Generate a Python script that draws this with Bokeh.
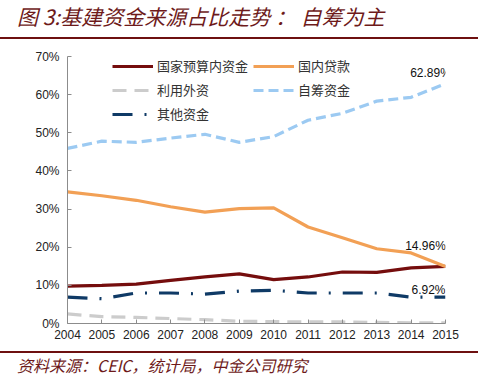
from bokeh.plotting import figure
from bokeh.models import (FixedTicker, PrintfTickFormatter, Legend, LegendItem, Div,
                          ColumnDataSource, Range1d)
from bokeh.layouts import column
from bokeh.core.properties import value
from bokeh.embed import file_html
from bokeh.resources import INLINE

years = [2004, 2005, 2006, 2007, 2008, 2009, 2010, 2011, 2012, 2013, 2014, 2015]
budget = [9.8, 10.0, 10.3, 11.3, 12.2, 13.0, 11.5, 12.2, 13.5, 13.4, 14.6, 14.96]
loans = [34.5, 33.5, 32.3, 30.6, 29.2, 30.1, 30.3, 25.3, 22.5, 19.6, 18.5, 14.96]
foreign = [2.5, 1.8, 1.6, 1.3, 1.0, 0.6, 0.5, 0.4, 0.4, 0.3, 0.2, 0.2]
selfraised = [45.9, 47.8, 47.5, 48.6, 49.6, 47.5, 49.0, 53.3, 55.1, 58.3, 59.3, 62.89]
others = [6.9, 6.5, 8.0, 8.0, 7.7, 8.5, 8.7, 8.0, 8.0, 8.0, 6.9, 6.92]
y_ticks = [0, 10, 20, 30, 40, 50, 60, 70]
end_labels = ["62.89%", "14.96%", "6.92%"]
end_values = [62.89, 14.96, 6.92]

cjk = "Noto Sans CJK SC"
latin = "Liberation Sans"

title_div = Div(
    text="图 3:基建资金来源占比走势 ： 自筹为主",
    width=478, height=37, margin=(2, 0, 0, 0),
    styles={"font-family": "'Noto Sans CJK SC'", "font-style": "italic",
            "font-size": "21px", "color": "#6e1a1a", "line-height": "29px",
            "white-space": "nowrap", "text-indent": "17px",
            "border-bottom": "2px solid #6e1010"})

p = figure(width=488, height=312, output_backend="svg", toolbar_location=None,
           x_range=Range1d(2004, 2015), y_range=Range1d(0, 70),
           min_border_left=67, min_border_right=43, min_border_top=17, min_border_bottom=28)
p.outline_line_color = None
p.xgrid.visible = False
p.ygrid.visible = False

for ax in (p.xaxis, p.yaxis):
    ax.axis_line_color = "#8c8c8c"
    ax.major_tick_line_color = "#8c8c8c"
    ax.major_tick_in = 4
    ax.major_tick_out = 0
    ax.minor_tick_line_color = None
    ax.major_label_text_font = latin
    ax.major_label_text_font_size = "12px"
    ax.major_label_text_color = "#222222"

p.xaxis.ticker = FixedTicker(ticks=years)
p.xaxis.major_label_overrides = {y: str(y) for y in years}
p.xaxis.major_label_standoff = 6
p.yaxis.ticker = FixedTicker(ticks=y_ticks)
p.yaxis.formatter = PrintfTickFormatter(format="%d%%")
p.yaxis.major_label_standoff = 8

r_budget = p.line(years, budget, line_color="#750d0d", line_width=3.2)
r_loans = p.line(years, loans, line_color="#f2a055", line_width=3.2)
r_foreign = p.line(years, foreign, line_color="#cccccc", line_width=3.2, line_dash="14 8")
r_self = p.line(years, selfraised, line_color="#9ccaf2", line_width=3.2, line_dash="10 5")
r_others = p.line(years, others, line_color="#0f3a66", line_width=3.2, line_dash="20 12 2 12")

src = ColumnDataSource(dict(x=[2015] * 3, y=end_values, t=end_labels,
                            xo=[-15, -20, -17], yo=[-11, -20, -7]))
p.text("x", "y", text="t", source=src, x_offset="xo", y_offset="yo",
       text_align="center", text_baseline="middle", text_font=value(latin),
       text_font_size="12px", text_color="#111111")

legend = Legend(items=[
    LegendItem(label="国家预算内资金", renderers=[r_budget]),
    LegendItem(label="利用外资", renderers=[r_foreign]),
    LegendItem(label="其他资金", renderers=[r_others]),
    LegendItem(label="国内贷款", renderers=[r_loans]),
    LegendItem(label="自筹资金", renderers=[r_self]),
], ncols=2, location=(45, 200))
legend.label_text_font = cjk
legend.label_text_font_size = "13px"
legend.label_text_color = "#333333"
legend.glyph_width = 41
legend.glyph_height = 12
legend.label_height = 12
legend.spacing = 5
legend.padding = 0
legend.margin = 0
legend.label_standoff = 4
legend.border_line_color = None
legend.background_fill_alpha = 0
p.add_layout(legend, "center")

footer_div = Div(
    text="资料来源：CEIC，统计局，中金公司研究",
    width=478, height=28, margin=(0, 0, 0, 0),
    styles={"font-family": "'Noto Sans CJK SC'", "font-style": "italic",
            "font-size": "16px", "color": "#6e1a1a", "line-height": "24px",
            "white-space": "nowrap", "text-indent": "17px",
            "border-top": "2px solid #6e1010"})

layout = column(title_div, p, footer_div, spacing=0)
open("out.html", "w").write(file_html(layout, INLINE))
